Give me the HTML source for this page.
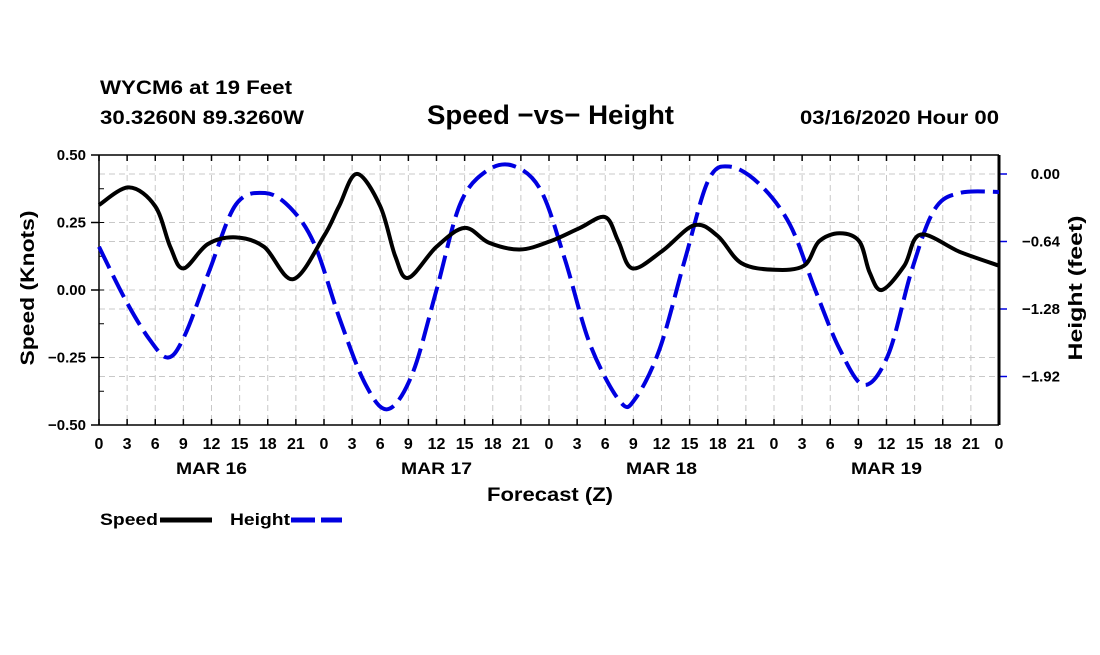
<!DOCTYPE html>
<html><head><meta charset="utf-8"><style>
body{margin:0;background:#fff;}
svg text{font-family:"Liberation Sans",sans-serif;font-weight:bold;fill:#000;}
</style></head><body>
<svg id="c" width="1100" height="650" xmlns="http://www.w3.org/2000/svg">
<text x="100" y="94" font-size="19" textLength="192" lengthAdjust="spacingAndGlyphs">WYCM6 at 19 Feet</text>
<text x="100" y="124" font-size="19" textLength="204" lengthAdjust="spacingAndGlyphs">30.3260N 89.3260W</text>
<text x="427" y="124" font-size="27" textLength="247" lengthAdjust="spacingAndGlyphs">Speed −vs− Height</text>
<text x="800" y="124" font-size="19" textLength="199" lengthAdjust="spacingAndGlyphs">03/16/2020 Hour 00</text>
<g id="grid"></g><g id="axes"></g><g id="series"></g>
<text transform="translate(34,288) rotate(-90)" font-size="19" text-anchor="middle" textLength="155" lengthAdjust="spacingAndGlyphs">Speed (Knots)</text>
<text transform="translate(1082,288) rotate(-90)" font-size="19" text-anchor="middle" textLength="145" lengthAdjust="spacingAndGlyphs">Height (feet)</text>
<text x="487" y="501" font-size="19" textLength="126" lengthAdjust="spacingAndGlyphs">Forecast (Z)</text>
<g><text x="100" y="525" font-size="17" textLength="58" lengthAdjust="spacingAndGlyphs">Speed</text><line x1="160" y1="520" x2="212" y2="520" stroke="#000" stroke-width="5"/></g>
<g><text x="230" y="525" font-size="17" textLength="60" lengthAdjust="spacingAndGlyphs">Height</text><line x1="291" y1="520" x2="342" y2="520" stroke="#0000e0" stroke-width="5" stroke-dasharray="24,6"/></g>
</svg>
<script>
const speedHours=[0,3.2,6,7.6,9,11.6,14.6,17.6,20.7,24,25.6,27.5,30,31.6,33,36,39,41.6,44.9,48.1,51.3,54,55.4,56.9,60.1,63.5,66,68.5,72,75.2,76.8,79,81.1,82.2,83.5,85.9,87.6,91.9,96];
const speedValues=[0.315,0.38,0.31,0.16,0.08,0.17,0.195,0.16,0.04,0.2,0.31,0.43,0.31,0.125,0.045,0.16,0.23,0.175,0.15,0.18,0.23,0.27,0.18,0.08,0.145,0.24,0.2,0.1,0.075,0.09,0.18,0.21,0.18,0.065,0.0,0.09,0.205,0.14,0.09];
const heightHours=[0,2.8,5.4,7.4,9.2,11.8,14.6,17.7,20.4,23,25.7,28.4,30.8,33.4,36,38.5,41.2,44.1,47.1,49.7,52.4,55.6,57.2,59.8,62.5,65,67.3,70.5,73.7,76.4,79,81.6,84.2,86.7,89.1,91.8,96];
const heightValues=[-0.69,-1.19,-1.57,-1.74,-1.52,-0.91,-0.29,-0.18,-0.32,-0.67,-1.38,-1.99,-2.23,-1.9,-1.1,-0.29,0.02,0.08,-0.15,-0.81,-1.62,-2.16,-2.13,-1.66,-0.81,-0.06,0.07,-0.1,-0.48,-1.1,-1.66,-2.0,-1.71,-0.91,-0.34,-0.18,-0.17];
const leftTicks=[0.5,0.25,0,-0.25,-0.5];
const rightTicks=[0,-0.64,-1.28,-1.92];
const hourLabels=["0","3","6","9","12","15","18","21"];
const dayLabels=["MAR 16","MAR 17","MAR 18","MAR 19"];
const X0=99,X1=999,Y0=155,Y1=425;
const xs=h=>X0+(X1-X0)*h/96;
const ys=v=>Y0+(0.5-v)*(Y1-Y0);
const yh=h=>174-h*(67.5/0.64);
const NS="http://www.w3.org/2000/svg";
function mk(p,t,a){const e=document.createElementNS(NS,t);for(const k in a)e.setAttribute(k,a[k]);p.appendChild(e);return e;}
const grid=document.getElementById('grid'),axes=document.getElementById('axes'),ser=document.getElementById('series');
mk(grid,'rect',{x:X0,y:Y0,width:X1-X0,height:Y1-Y0,fill:'#fff'});
for(let i=0;i<=32;i++){const x=xs(i*3);
 const g=mk(grid,'line',{x1:x,y1:Y0,x2:x,y2:Y1,stroke:'#c8c8c8','stroke-dasharray':'6,4'});
 
 mk(axes,'line',{x1:x,y1:Y1,x2:x,y2:Y1-6,stroke:'#000','stroke-width':1.5});
 mk(axes,'line',{x1:x,y1:Y0,x2:x,y2:Y0+6,stroke:'#000','stroke-width':1.5});
 const t=mk(axes,'text',{x:x,y:449,'font-size':16,'text-anchor':'middle'});t.textContent=hourLabels[i%8];
 }
dayLabels.forEach((d,i)=>{const t=mk(axes,'text',{x:xs(i*24+12),y:474,'font-size':17,'text-anchor':'middle',textLength:71,lengthAdjust:'spacingAndGlyphs'});t.textContent=d;
 });
leftTicks.forEach(v=>{const y=ys(v);
 if(v<0.5&&v>-0.5){const g=mk(grid,'line',{x1:X0,y1:y,x2:X1,y2:y,stroke:'#c8c8c8','stroke-dasharray':'6,4'});}
 mk(axes,'line',{x1:X0-8,y1:y,x2:X0,y2:y,stroke:'#000','stroke-width':1.5});
 const t=mk(axes,'text',{x:86,y:y+5,'font-size':15,'text-anchor':'end'});t.textContent=(v<0?'−':'')+Math.abs(v).toFixed(2);
 });
for(let v=0.5;v>=-0.5;v-=0.125)mk(axes,'line',{x1:X0,y1:ys(v),x2:X0+5,y2:ys(v),stroke:'#000'});
rightTicks.forEach(v=>{const y=yh(v);
 const g=mk(grid,'line',{x1:X0,y1:y,x2:X1,y2:y,stroke:'#c8c8c8','stroke-dasharray':'6,4'});
 mk(axes,'line',{x1:X1,y1:y,x2:X1+8,y2:y,stroke:'#0000e0','stroke-width':1.5});
 const t=mk(axes,'text',{x:1060,y:y+5,'font-size':15,'text-anchor':'end'});t.textContent=(v<0?'−':'')+Math.abs(v).toFixed(2);
 });
mk(axes,'line',{x1:X0,y1:Y0,x2:X1,y2:Y0,stroke:'#000','stroke-width':1.5});
mk(axes,'line',{x1:X0,y1:Y1,x2:X1,y2:Y1,stroke:'#000','stroke-width':1.5});
mk(axes,'line',{x1:X0,y1:Y0,x2:X0,y2:Y1,stroke:'#000','stroke-width':1.5});
mk(axes,'line',{x1:X1,y1:Y0,x2:X1,y2:Y1,stroke:'#000','stroke-width':3});
function path(hs,vs,yf){const p=hs.map((h,i)=>[xs(h),yf(vs[i])]);let d='M'+p[0][0]+','+p[0][1];
 for(let i=0;i<p.length-1;i++){const a=p[Math.max(0,i-1)],b=p[i],c=p[i+1],e=p[Math.min(p.length-1,i+2)];
 d+=' C'+(b[0]+(c[0]-a[0])/6)+','+(b[1]+(c[1]-a[1])/6)+' '+(c[0]-(e[0]-b[0])/6)+','+(c[1]-(e[1]-b[1])/6)+' '+c[0]+','+c[1];}return d;}
const hp=mk(ser,'path',{d:path(heightHours,heightValues,yh),fill:'none',stroke:'#0000e0','stroke-width':4,'stroke-dasharray':'24,8'});


const sp=mk(ser,'path',{d:path(speedHours,speedValues,ys),fill:'none',stroke:'#000','stroke-width':4});


</script>
</body></html>
